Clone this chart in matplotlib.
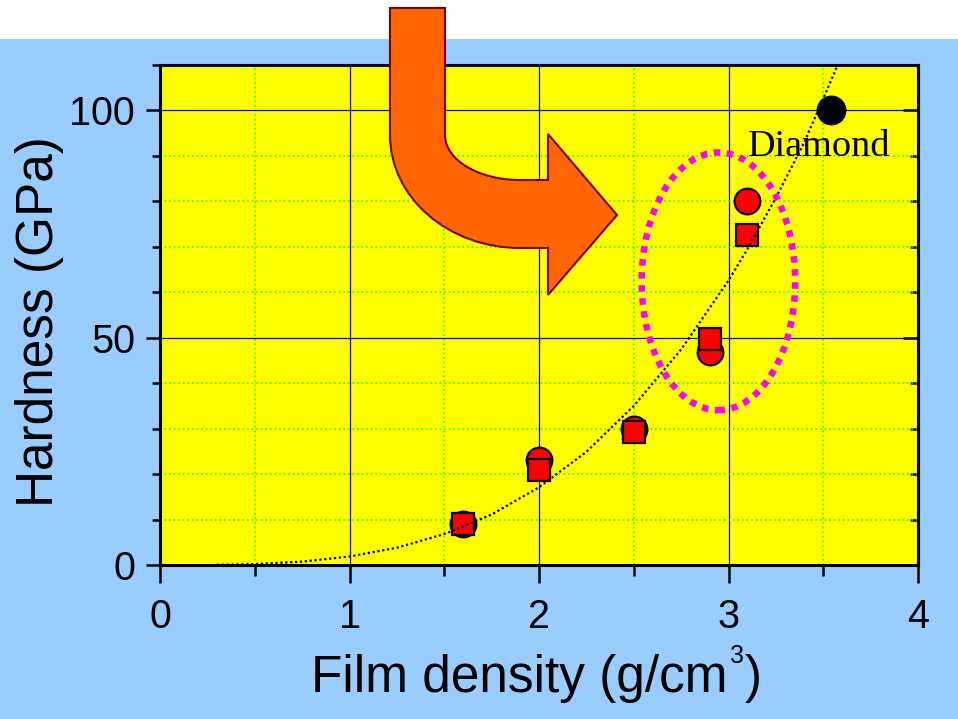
import matplotlib
matplotlib.use('Agg')
import matplotlib.pyplot as plt
from matplotlib.patches import Ellipse, PathPatch, Rectangle
from matplotlib.path import Path
from matplotlib.ticker import MultipleLocator

plt.rcParams['font.family'] = ['Liberation Sans', 'DejaVu Sans']

# ---- data ----
circle_x = [1.6, 2.0, 2.5, 2.9, 3.1]
circle_y = [9.0, 23.0, 30.0, 46.8, 80.0]
square_x = [1.6, 2.0, 2.5, 2.9, 3.1]
square_y = [9.0, 20.8, 29.2, 49.7, 72.5]
diamond_x = [3.54]
diamond_y = [100.0]
curve_x = [0.3, 0.5, 0.75, 1.0, 1.25, 1.5, 1.75, 2.0, 2.25, 2.5, 2.75, 3.0, 3.1, 3.25, 3.4, 3.5, 3.57]
curve_y = [0.04, 0.2, 0.74, 1.86, 3.8, 6.8, 11.1, 17.1, 24.9, 35.0, 47.4, 62.6, 69.5, 80.8, 93.0, 102.6, 109.4]
x_ticks = [0, 1, 2, 3, 4]
y_ticks = [0, 50, 100]
x_label = 'Film density (g/cm'
y_label = 'Hardness (GPa)'
note_text = 'Diamond'

W, H = 958, 719
fig = plt.figure(figsize=(W / 100, H / 100), dpi=100)
fig.patch.set_facecolor('white')
fig.add_artist(Rectangle((0, 0), 1, 1 - 39 / H, transform=fig.transFigure,
                         facecolor='#99CCFF', edgecolor='none', zorder=-10))

ax = fig.add_axes([160 / W, 1 - 565 / H, 758 / W, 500 / H])
ax.set_facecolor('#FFFF00')
ax.set_xlim(0, 4)
ax.set_ylim(0, 110)

ax.xaxis.set_major_locator(MultipleLocator(1))
ax.xaxis.set_minor_locator(MultipleLocator(0.5))
ax.yaxis.set_major_locator(MultipleLocator(50))
ax.yaxis.set_minor_locator(MultipleLocator(10))
ax.set_xticks(x_ticks)
ax.set_xticklabels([str(t) for t in x_ticks])
ax.set_yticks(y_ticks)
ax.set_yticklabels([str(t) for t in y_ticks])

ax.grid(which='major', color='#0000FF', lw=0.9, ls='-', zorder=0.5)
ax.grid(which='minor', color='#00FF00', lw=1.1, ls=(0, (1, 2)), zorder=0.5)
ax.set_axisbelow(True)

for s in ax.spines.values():
    s.set_linewidth(2.2)
    s.set_color('black')

ax.tick_params(axis='x', which='major', direction='out', length=13, width=1.8,
               top=False, labelsize=28.5, pad=11)
ax.tick_params(axis='x', which='minor', direction='out', length=8, width=1.8, top=False)
ax.tick_params(axis='y', which='major', direction='out', length=10, width=1.8,
               right=False, labelsize=28.5, pad=8)
ax.tick_params(axis='y', which='minor', direction='out', length=6, width=1.8, right=False)

sec = ax.secondary_yaxis('right')
sec.yaxis.set_major_locator(MultipleLocator(50))
sec.yaxis.set_minor_locator(MultipleLocator(10))
sec.tick_params(which='major', direction='in', length=11, width=1.8, labelright=False)
sec.tick_params(which='minor', direction='in', length=6, width=1.8)
sec.spines['right'].set_linewidth(2.2)

# data
ax.plot(circle_x, circle_y, 'o', ms=18.5, mfc='#FF0000', mec='black', mew=1.6, zorder=2)
ax.plot(square_x, square_y, 's', ms=16.5, mfc='#FF0000', mec='black', mew=1.6, zorder=2.1)
ax.plot(diamond_x, diamond_y, 'o', ms=20.5, mfc='black', mec='black', mew=1.0, zorder=2.2)
ax.plot(curve_x, curve_y, color='black', lw=1.6, ls=(0, (1, 1.2)), zorder=3)

ax.text(3.103, 89.9, note_text, family='Liberation Serif', fontsize=27.5,
        ha='left', va='baseline', zorder=5)

ax.add_patch(Ellipse((2.947, 62.4), 0.81, 56.7, facecolor='none', edgecolor='#FF00FF',
                     lw=4.7, ls=(0, (1, 1)), zorder=4))

# axis labels
ax.set_xlabel(x_label, fontsize=37)
ax.xaxis.label.set_ha('left')
ax.xaxis.label.set_va('baseline')
ax.xaxis.set_label_coords(0.199, -0.254)
sup = ax.annotate('3', xy=(1, 1), xycoords=ax.xaxis.label, xytext=(2, 7),
                  textcoords='offset points', fontsize=18, ha='left', va='top',
                  annotation_clip=False)
ax.annotate(')', xy=(1, 0), xycoords=(sup, ax.xaxis.label), xytext=(0.5, 0),
            textcoords='offset points', fontsize=37, ha='left', va='bottom',
            annotation_clip=False)

ax.set_ylabel(y_label, fontsize=37)
ax.yaxis.label.set_va('baseline')
ax.yaxis.set_label_coords(-0.141, 0.487)

# curved orange arrow (decoration)
def P(x, y):
    return (x / W, 1 - y / H)

verts = [P(390, 8), P(445, 8), P(445, 135),
         P(445, 160), P(478.6, 180), P(520, 180),
         P(548, 180), P(548, 134), P(617, 215), P(548, 295), P(548, 248), P(520, 248),
         P(448.2, 248), P(390, 197.4), P(390, 135),
         P(390, 8)]
codes = [Path.MOVETO, Path.LINETO, Path.LINETO,
         Path.CURVE4, Path.CURVE4, Path.CURVE4,
         Path.LINETO, Path.LINETO, Path.LINETO, Path.LINETO, Path.LINETO, Path.LINETO,
         Path.CURVE4, Path.CURVE4, Path.CURVE4,
         Path.CLOSEPOLY]
fig.add_artist(PathPatch(Path(verts, codes), transform=fig.transFigure,
                         facecolor='#FF6600', edgecolor='#800000', lw=1.5, zorder=3))

fig.savefig('out.png', dpi=100, facecolor=fig.get_facecolor())
